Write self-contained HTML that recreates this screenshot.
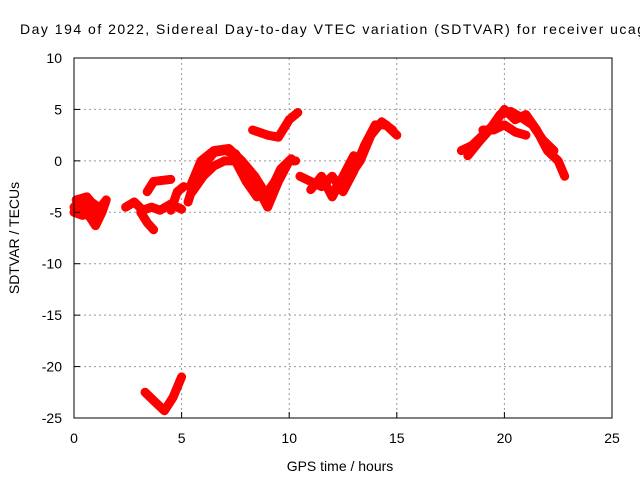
<!DOCTYPE html>
<html><head><meta charset="utf-8"><style>
body{margin:0;background:#fff}
svg text{font-family:"Liberation Sans",sans-serif;font-size:14px;fill:#000}
</style></head><body>
<svg width="640" height="480">
<g id="grid"></g>
<g id="series"></g>
<rect x="74" y="58" width="538" height="360" fill="none" stroke="#000" stroke-width="1"/>
<g id="ticks"></g>
<text x="20" y="34" textLength="625" lengthAdjust="spacing">Day 194 of 2022, Sidereal Day-to-day VTEC variation (SDTVAR) for receiver ucag</text>
<text x="340" y="471" text-anchor="middle">GPS time / hours</text>
<text x="19" y="238" text-anchor="middle" transform="rotate(-90 19 238)">SDTVAR / TECUs</text>
</svg>
<script>
const xTicks=[0,5,10,15,20,25];
const yTicks=[10,5,0,-5,-10,-15,-20,-25];
const arcA=[[0,-4.5],[0.3,-3.8],[0.6,-5],[1,-6.3],[1.3,-5],[1.5,-3.8],[1.2,-4.6],[0.8,-4],[0.4,-5.3],[0,-5]];
const arcA2=[[0.1,-3.8],[0.6,-3.5],[1,-4.5],[0.9,-5.8],[0.4,-4.8]];
const arcB=[[2.4,-4.5],[2.8,-4],[3.2,-4.8],[3.6,-4.5],[4,-4.8],[4.5,-4.2],[5,-4.7]];
const arcB2=[[3.1,-5],[3.4,-6],[3.7,-6.7]];
const arcB3=[[3.4,-3],[3.7,-2],[4.5,-1.8]];
const arcB4=[[4.5,-4.8],[4.8,-3],[5.1,-2.5]];
const arcC=[[5.3,-4],[5.6,-2],[6,-0.5],[6.5,0.8],[7,1],[7.5,0.7],[8,-1],[8.5,-2.5],[9,-4.5],[9.5,-2],[10,0],[10.3,0]];
const arcC2=[[5.5,-3],[6,-1.5],[6.5,-0.5],[7,0],[7.5,0],[8,-2],[8.5,-3.5],[9,-3],[9.5,-1.5]];
const arcC3=[[5.4,-2.5],[5.9,0],[6.5,1],[7.2,1.2],[7.8,0],[8.4,-1.5],[9,-3.5],[9.6,-0.8],[10.1,0.2]];
const arcD=[[8.3,3],[9,2.5],[9.5,2.3],[10,4],[10.4,4.7]];
const arcE=[[10.5,-1.5],[11,-2],[11.5,-2.5],[12,-1.5],[12.5,-3],[13,-1],[13.5,1.5],[14,3.5],[14.5,3.5],[15,2.5]];
const arcE2=[[11,-2.8],[11.5,-1.5],[12,-3.5],[12.5,-1.5],[13,0.5]];
const arcE3=[[12.2,-2.5],[12.8,-1.5],[13.3,0],[13.8,2.5],[14.3,3.8],[14.8,3]];
const arcF=[[18,1],[18.5,1.5],[19,2.5],[19.5,3.5],[20,5],[20.5,4],[21,4.5],[21.5,3],[22,1],[22.5,0],[22.8,-1.5]];
const arcF2=[[19,3],[19.5,3],[20,3.5],[20.5,2.8],[21,2.5]];
const arcF3=[[18.3,0.5],[18.8,1.8],[19.3,3],[19.8,4.5],[20.3,4.8],[20.8,4.2],[21.3,3.5],[21.8,2],[22.3,1]];
const arcG=[[3.3,-22.5],[3.8,-23.5],[4.2,-24.3],[4.6,-23],[5,-21]];
const arcs=[arcA,arcA2,arcB,arcB2,arcB3,arcB4,arcC,arcC2,arcC3,arcD,arcE,arcE2,arcE3,arcF,arcF2,arcF3,arcG];
const X=h=>74+h*538/25, Y=v=>58+(10-v)*360/35;
const NS='http://www.w3.org/2000/svg';
const grid=document.getElementById('grid'),ticks=document.getElementById('ticks'),ser=document.getElementById('series');
function mk(tag,at,p){const e=document.createElementNS(NS,tag);for(const k in at)e.setAttribute(k,at[k]);p.appendChild(e);return e;}
xTicks.forEach(t=>{const x=X(t);
 if(t>0&&t<25){const g=mk('line',{x1:x,x2:x,y1:58,y2:418,stroke:'#999','stroke-dasharray':'2,3'},grid);
 
 }
 const tm=mk('line',{x1:x,x2:x,y1:418,y2:412,stroke:'#000'},ticks);
 
 
 const l=mk('text',{x:x,y:443,'text-anchor':'middle'},ticks);l.textContent=t;
 
 });
yTicks.forEach(t=>{const y=Y(t);
 if(t<10&&t>-25){const g=mk('line',{x1:74,x2:612,y1:y,y2:y,stroke:'#999','stroke-dasharray':'2,3'},grid);
 
 }
 const tm=mk('line',{x1:74,x2:80,y1:y,y2:y,stroke:'#000'},ticks);
 
 
 const l=mk('text',{x:62,y:y+5,'text-anchor':'end'},ticks);l.textContent=t;
 
 });
arcs.forEach(a=>{const p=mk('polyline',{points:a.map(d=>X(d[0])+','+Y(d[1])).join(' '),fill:'none',stroke:'#f00','stroke-width':9,'stroke-linejoin':'round','stroke-linecap':'round'},ser);
 
 });
</script>
</body></html>
